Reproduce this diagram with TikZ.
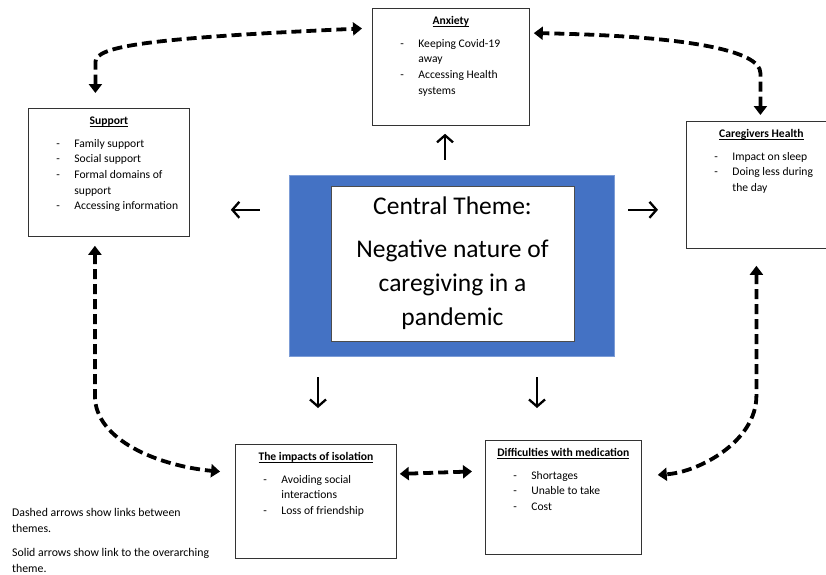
\documentclass[tikz,border=0pt]{standalone}
\usepackage{fontspec}
\setmainfont{Carlito}
\usetikzlibrary{positioning, arrows.meta, calc}

\definecolor{hubblue}{HTML}{4472C4}

% Text inside the theme boxes
\newcommand{\themetitle}[1]{\centering\vspace*{5pt}\strut\underline{\smash{\textbf{#1}}}\par\vspace{7pt}\raggedright\leftskip=28pt\relax}
\newcommand{\themeitem}[1]{\makebox[18pt][l]{-}#1\par}
\newcommand{\themecont}[1]{\hspace*{18pt}#1\par}

\begin{document}
\begin{tikzpicture}[
    x=1pt, y=-1pt,
    % Styles
    themebox/.style={
        rectangle,
        draw=black!80,
        line width=0.8pt,
        fill=white,
        anchor=north west,
        inner sep=0pt,
        font=\fontsize{11.6}{15.7}\selectfont
    },
    hub/.style={
        rectangle,
        fill=hubblue,
        draw=hubblue!70,
        minimum width=325pt,
        minimum height=181pt
    },
    hubtext/.style={
        rectangle,
        draw=black!70,
        fill=white,
        line width=0.6pt,
        minimum width=243pt,
        minimum height=155pt,
        align=center,
        font=\fontsize{25.5}{34}\selectfont
    },
    lead/.style={ % Solid arrow to the central theme
        -{Straight Barb[length=7pt, width=16pt]},
        line width=2.3pt
    },
    link/.style={ % Dashed link between themes
        {Triangle[length=9pt, width=13pt]}-{Triangle[length=9pt, width=13pt]},
        line width=3.8pt,
        dash pattern=on 10pt off 5pt
    }
]
    \useasboundingbox (0,0) rectangle (826,574);

    % Central theme
    \node[hub] (centre) at (451.5,265.5) {};
    \node[hubtext] (mainidea) at (452.5,263.5) {Central Theme:\\[9pt] Negative nature of\\ caregiving in a\\ pandemic};

    % Themes
    \node[themebox] (anx) at (372,8) {\parbox[t][117pt][t]{157pt}{%
        \themetitle{Anxiety}
        \themeitem{Keeping Covid-19}
        \themecont{away}
        \themeitem{Accessing Health}
        \themecont{systems}}};
    \node[themebox] (sup) at (28,108) {\parbox[t][128pt][t]{161pt}{%
        \themetitle{Support}
        \themeitem{Family support}
        \themeitem{Social support}
        \themeitem{Formal domains of}
        \themecont{support}
        \themeitem{Accessing information}}};
    \node[themebox] (care) at (686,121) {\parbox[t][127pt][t]{150pt}{%
        \themetitle{Caregivers Health}
        \themeitem{Impact on sleep}
        \themeitem{Doing less during}
        \themecont{the day}}};
    \node[themebox] (iso) at (235,444) {\parbox[t][114pt][t]{161pt}{%
        \themetitle{The impacts of isolation}
        \themeitem{Avoiding social}
        \themecont{interactions}
        \themeitem{Loss of friendship}}};
    \node[themebox] (med) at (485,440) {\parbox[t][114pt][t]{156pt}{%
        \themetitle{Difficulties with medication}
        \themeitem{Shortages}
        \themeitem{Unable to take}
        \themeitem{Cost}}};

    % Legend
    \node[anchor=north west, align=left, inner sep=0pt, font=\fontsize{11.8}{16}\selectfont] (note) at (12,508) {Dashed arrows show links between\\ themes.\\[8pt] Solid arrows show link to the overarching\\ theme.};

    % Solid arrows to the central theme
    \draw[lead, shorten <=15pt, shorten >=8pt] ($(centre.north)+(-6.5,0)$) -- ($(centre.north |- anx.south)+(-6.5,0)$);
    \draw[lead, shorten <=29pt, shorten >=41pt] ($(centre.north west)+(0,35)$) -- ($(centre.north west -| sup.east)+(0,35)$);
    \draw[lead, shorten <=14pt, shorten >=28pt] ($(centre.north east)+(0,35)$) -- ($(centre.north east -| care.west)+(0,35)$);
    \draw[lead, shorten <=21pt, shorten >=36pt] ($(centre.south)+(-133.5,0)$) -- ($(centre.south |- iso.north)+(-133.5,0)$);
    \draw[lead, shorten <=21pt, shorten >=32pt] ($(centre.south)+(85.5,0)$) -- ($(centre.south |- med.north)+(85.5,0)$);

    % Dashed links between themes
    \draw[link, shorten <=15pt, shorten >=10pt] ($(sup.north)+(-13.5,0)$) -- ++(0,-46) .. controls ++(0,-16) and (150,38) .. ($(anx.north west)+(0,20)$);
    \draw[link, shorten <=6pt, shorten >=4pt] ($(care.north)+(-1,0)$) -- ++(0,-48) .. controls ++(0,-22) and (690,36) .. ($(anx.north east)+(0,25)$);
    \draw[link, shorten <=9pt, shorten >=15pt] ($(sup.south)+(-14,0)$) -- ++(0,159) .. controls ++(0,45) and (160,466) .. ($(iso.north west)+(0,29)$);
    \draw[link, shorten <=17pt, shorten >=16pt] ($(care.south)+(-5,0)$) -- ++(0,147) .. controls ++(0,45) and (700,472) .. ($(med.north east)+(0,36)$);
    \draw[link, shorten <=3pt, shorten >=13pt] ($(iso.north east)+(0,30)$) -- ($(med.north west)+(0,31)$);
\end{tikzpicture}
\end{document}
